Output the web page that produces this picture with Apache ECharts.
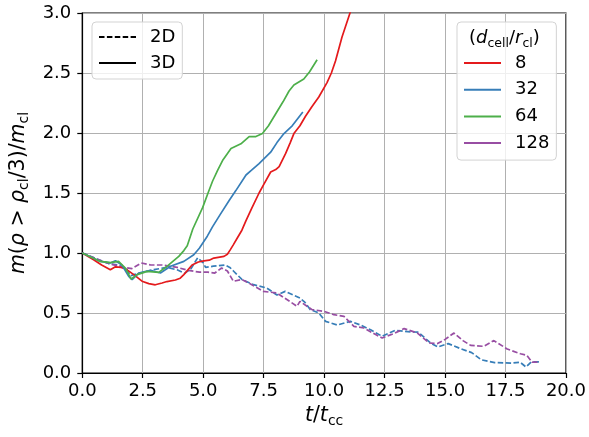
<!DOCTYPE html>
<html>
<head>
<meta charset="utf-8">
<script src="https://cdn.jsdelivr.net/npm/echarts@6/dist/echarts.min.js"></script>
<style>
  html, body { margin: 0; padding: 0; background: #fff; }
  #chart { width: 589px; height: 437px; }
</style>
</head>
<body>
<div id="chart"></div>
<script>
// ---- data (t / t_cc, m / m_cl) ----
const res8_3D = [[0,1.0],[0.47,0.944],[0.8,0.9],[1.16,0.86],[1.37,0.885],[1.6,0.88],[1.78,0.87],[2.13,0.82],[2.47,0.765],[2.75,0.745],[3.02,0.735],[3.3,0.75],[3.5,0.762],[3.85,0.775],[4.05,0.79],[4.2,0.82],[4.54,0.9],[4.8,0.925],[5.03,0.935],[5.25,0.94],[5.44,0.958],[5.86,0.972],[6.0,0.99],[6.13,1.03],[6.25,1.07],[6.41,1.125],[6.6,1.19],[6.77,1.27],[7.0,1.37],[7.31,1.5],[7.5,1.57],[7.79,1.675],[8.0,1.695],[8.14,1.72],[8.41,1.83],[8.6,1.92],[8.75,1.995],[9.0,2.06],[9.23,2.14],[9.5,2.22],[9.78,2.3],[10.12,2.42],[10.3,2.5],[10.47,2.6],[10.74,2.8],[11.07,3.0],[11.3,3.15]];
const res32_3D = [[0,1.0],[0.75,0.93],[1.16,0.917],[1.37,0.936],[1.64,0.9],[1.92,0.806],[2.06,0.778],[2.33,0.833],[2.82,0.856],[3.23,0.833],[3.65,0.889],[4.2,0.93],[4.61,0.986],[4.84,1.04],[5.17,1.14],[5.39,1.22],[5.7,1.32],[6.08,1.44],[6.35,1.52],[6.77,1.65],[7.0,1.69],[7.31,1.745],[7.79,1.84],[8.05,1.92],[8.34,1.995],[8.68,2.06],[9.12,2.175]];
const res64_3D = [[0,1.0],[0.75,0.93],[1.16,0.92],[1.5,0.93],[1.78,0.875],[2.02,0.783],[2.27,0.82],[2.68,0.847],[3.16,0.839],[3.5,0.889],[3.99,0.972],[4.2,1.02],[4.34,1.06],[4.57,1.2],[4.98,1.38],[5.2,1.5],[5.39,1.6],[5.6,1.69],[5.8,1.77],[6.15,1.87],[6.56,1.91],[6.9,1.97],[7.18,1.97],[7.45,1.995],[7.7,2.06],[8.0,2.16],[8.3,2.26],[8.55,2.35],[8.75,2.4],[9.16,2.45],[9.4,2.51],[9.71,2.61]];
const res32_2D = [[0,1.0],[0.6,0.95],[1.12,0.91],[1.5,0.9],[1.85,0.86],[2.0,0.81],[2.13,0.82],[2.4,0.833],[2.96,0.861],[3.5,0.88],[3.92,0.86],[4.23,0.83],[4.5,0.87],[4.77,0.96],[5.0,0.917],[5.1,0.88],[5.42,0.89],[5.9,0.9],[6.1,0.88],[6.25,0.85],[6.6,0.78],[7.08,0.736],[7.63,0.708],[8.05,0.65],[8.39,0.68],[9.0,0.625],[9.2,0.59],[9.43,0.528],[9.78,0.5],[10.06,0.43],[10.54,0.4],[11.09,0.43],[11.5,0.4],[11.92,0.36],[12.4,0.306],[12.94,0.356],[13.62,0.342],[13.9,0.34],[14.4,0.25],[14.7,0.217],[15.13,0.245],[15.68,0.2],[16.1,0.17],[16.5,0.11],[17.05,0.087],[17.74,0.083],[18.1,0.09],[18.35,0.05],[18.56,0.092],[18.9,0.092]];
const res128_2D = [[0,1.0],[0.6,0.95],[1.12,0.91],[1.74,0.88],[2.05,0.87],[2.44,0.917],[2.83,0.9],[3.3,0.9],[3.92,0.88],[4.39,0.855],[4.85,0.84],[5.2,0.84],[5.48,0.833],[5.76,0.875],[6.0,0.85],[6.25,0.764],[6.6,0.78],[7.01,0.736],[7.49,0.68],[8.05,0.667],[8.25,0.64],[8.88,0.556],[9.0,0.597],[9.5,0.528],[10.0,0.514],[10.4,0.486],[10.82,0.472],[11.23,0.389],[11.65,0.375],[12.13,0.32],[12.4,0.292],[12.9,0.33],[13.31,0.37],[13.86,0.333],[14.34,0.25],[14.69,0.245],[15.0,0.28],[15.37,0.333],[15.74,0.27],[16.06,0.23],[16.6,0.222],[17.02,0.27],[17.57,0.2],[18.12,0.16],[18.38,0.147],[18.6,0.09],[18.9,0.09]];

const resLabels = ['8', '32', '64', '128'];
const dimLabels = ['2D', '3D'];
const xRange = [0, 20, 2.5];
const yRange = [0, 3, 0.5];

// ---- styling ----
const colors = { '8': '#e41a1c', '32': '#377eb8', '64': '#4daf4a', '128': '#984ea3' };
const FONT = 'DejaVu Sans';
const FS = 18;
const TFS = 20.5;
const DASH = [5.5, 2.4];
const LW = 1.7;

function makeRich(fs, sfs) {
  return {
    i: { fontFamily: FONT, fontSize: fs, fontStyle: 'italic', lineHeight: fs + 6, verticalAlign: 'middle', color: '#000' },
    n: { fontFamily: FONT, fontSize: fs, lineHeight: fs + 6, verticalAlign: 'middle', color: '#000' },
    s: { fontFamily: FONT, fontSize: sfs, lineHeight: sfs, verticalAlign: 'bottom', color: '#000' }
  };
}
const titleRich = makeRich(TFS, 14);
const legendRich = makeRich(FS, 12.5);

function dataSeries(name, data, color, dashed) {
  return {
    name: name, type: 'line', data: data, symbol: 'none', showSymbol: false,
    clip: true, silent: true, animation: false, z: 3,
    lineStyle: { color: color, width: LW, type: dashed ? DASH : 'solid' }
  };
}
function legendSeries(name, color, dashed) {
  return {
    name: name, type: 'line', data: [], symbol: 'none', showSymbol: false,
    animation: false, itemStyle: { color: color, opacity: 0 },
    lineStyle: { color: color, width: LW, type: dashed ? DASH : 'solid' }
  };
}

const series = [
  legendSeries(dimLabels[0], '#000', true),
  legendSeries(dimLabels[1], '#000', false),
  ...resLabels.map(r => legendSeries(r, colors[r], false)),
  dataSeries('d32_2D', res32_2D, colors['32'], true),
  dataSeries('d128_2D', res128_2D, colors['128'], true),
  dataSeries('d8_3D', res8_3D, colors['8'], false),
  dataSeries('d32_3D', res32_3D, colors['32'], false),
  dataSeries('d64_3D', res64_3D, colors['64'], false)
];

const legendCommon = {
  orient: 'vertical', selectedMode: false,
  itemWidth: 37, itemHeight: 14, itemGap: 8,
  itemStyle: { opacity: 0, borderWidth: 0 },
  backgroundColor: 'rgba(255,255,255,0.8)', borderColor: '#d3d3d3', borderWidth: 1, borderRadius: 4,
  textStyle: { fontFamily: FONT, fontSize: FS, color: '#000', padding: [0, 0, 0, 9], lineHeight: 18 }
};

const chart = echarts.init(document.getElementById('chart'), null, { renderer: 'canvas' });
chart.setOption({
  animation: false,
  backgroundColor: '#fff',
  grid: { left: 81, right: 21, top: 13, bottom: 64, show: true, borderColor: '#000', borderWidth: 1.2, backgroundColor: 'transparent' },
  xAxis: {
    type: 'value', min: xRange[0], max: xRange[1], interval: xRange[2],
    axisLine: { show: true, lineStyle: { color: '#000', width: 1.2 } },
    axisTick: { show: true, inside: false, length: 5, lineStyle: { color: '#000', width: 1.2 } },
    axisLabel: { color: '#000', fontFamily: FONT, fontSize: FS, margin: 9, formatter: v => v.toFixed(1) },
    splitLine: { show: true, lineStyle: { color: '#b0b0b0', width: 1 } },
    name: '{i|t}{n|/}{i|t}{s|cc}', nameLocation: 'middle', nameGap: 29,
    nameTextStyle: { color: '#000', fontFamily: FONT, fontSize: TFS, rich: titleRich }
  },
  yAxis: {
    type: 'value', min: yRange[0], max: yRange[1], interval: yRange[2],
    axisLine: { show: true, lineStyle: { color: '#000', width: 1.2 } },
    axisTick: { show: true, inside: false, length: 5, lineStyle: { color: '#000', width: 1.2 } },
    axisLabel: { color: '#000', fontFamily: FONT, fontSize: FS, margin: 11, formatter: v => v.toFixed(1) },
    splitLine: { show: true, lineStyle: { color: '#b0b0b0', width: 1 } },
    name: '{i|m}{n|(}{i|ρ}{n| > }{i|ρ}{s|cl}{n|/3)/}{i|m}{s|cl}', nameLocation: 'middle', nameGap: 43, nameRotate: 90,
    nameTextStyle: { color: '#000', fontFamily: FONT, fontSize: TFS, rich: titleRich }
  },
  legend: [
    Object.assign({}, legendCommon, {
      data: dimLabels, left: 92, top: 22, padding: [6, 7, 7, 6]
    }),
    Object.assign({}, legendCommon, {
      data: resLabels, left: 457, top: 22, padding: [32, 7, 8, 6], itemGap: 8.7
    })
  ],
  graphic: [{
    type: 'text', left: 469, top: 29, z: 100,
    style: {
      text: '{n|(}{i|d}{s|cell}{n|/}{i|r}{s|cl}{n|)}',
      rich: legendRich, fill: '#000'
    }
  }],
  series: series
});
</script>
</body>
</html>
